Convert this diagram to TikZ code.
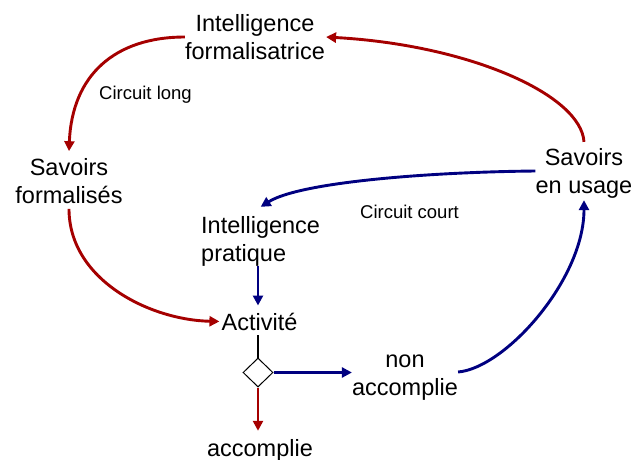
\documentclass[tikz,border=0pt]{standalone}
\usepackage{fontspec}
\setmainfont{Liberation Sans}
\usetikzlibrary{arrows.meta,shapes.geometric}
\definecolor{loopred}{RGB}{165,0,0}
\definecolor{loopblue}{RGB}{0,0,128}
\begin{document}
\begin{tikzpicture}[x=1pt,y=-1pt,
  lbl/.style={inner sep=0pt,font=\fontsize{23.5}{28}\selectfont,align=center},
  note/.style={inner sep=0pt,font=\fontsize{18.5}{22}\selectfont},
  flow/.style={line width=2.9pt,-{Triangle[length=10pt,width=10pt]}},
  straight/.style={line width=2.5pt,-{Triangle[length=10pt,width=10pt]}},
  decision/.style={diamond,draw,line width=1pt,minimum width=30pt,minimum height=29pt,inner sep=0pt}
]
\useasboundingbox (0,0) rectangle (641,459);

% nodes
\node[lbl] (IF) at (255,37) {Intelligence\\formalisatrice};
\node[lbl] (SF) at (69,181) {Savoirs\\formalisés};
\node[lbl] (SU) at (584,173) {Savoirs\\en usage};
\node[lbl,align=left,anchor=west] (IP) at (201,241) {Intelligence\\pratique};
\node[lbl,anchor=base] (ACT) at (259.5,330) {Activité};
\node[decision] (D) at (258,372.5) {};
\node[lbl] (NA) at (405,378) {non\\accomplie};
\node[lbl,anchor=base] (ACC) at (260,456) {accomplie};
\node[note] (CL) at (145.5,94.5) {Circuit long};
\node[note] (CC) at (409.5,211.5) {Circuit court};

% long circuit (red)
\draw[flow,loopred] (IF.west) .. controls (115,37) and (72,75) .. ([yshift=7pt]SF.north);
\draw[flow,loopred] ([yshift=6pt]SU.north) .. controls (581,95) and (470,45) .. ([xshift=1pt]IF.east);
\draw[flow,loopred] ([yshift=-5pt]SF.south) .. controls (69,280) and (150,320) .. ([xshift=-2pt]ACT.west);

% short circuit (blue)
\draw[flow,loopblue] ([yshift=2pt]SU.west) .. controls (430,172) and (300,182) .. ([yshift=9pt]IP.north);
\draw[straight,loopblue,shorten >=7pt] (D.north |- IP.south) -- (D.north |- ACT.north);
\draw[flow,loopblue] ([yshift=6pt]NA.east) .. controls (505,368) and (584,280) .. ([yshift=-2pt]SU.south);

% decision
\draw[line width=2.8pt,shorten <=5pt] (D.north |- ACT.south) -- (D.north);
\draw[straight,loopblue] (D.east) -- (D.east -| NA.west);
\draw[straight,loopred,shorten >=8pt] (D.south) -- (D.south |- ACC.north);
\end{tikzpicture}
\end{document}
